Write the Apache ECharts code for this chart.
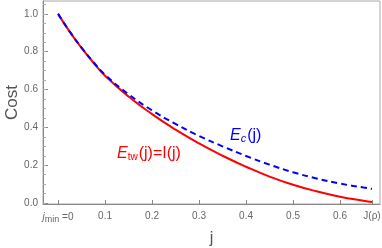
<!DOCTYPE html>
<html>
<head>
<meta charset="utf-8">
<script src="https://cdn.jsdelivr.net/npm/echarts@6/dist/echarts.min.js"></script>
<style>
  html, body { margin: 0; padding: 0; background: #fff; }
  #chart { width: 382px; height: 248px; }
</style>
</head>
<body>
<div id="chart"></div>
<script>
const J_RHO = 0.668;

const jValues = [0, 0.025, 0.05, 0.075, 0.1, 0.15, 0.2, 0.25, 0.3, 0.35, 0.4, 0.45, 0.5, 0.55, 0.6, 0.65, 0.668];
const twCost = [1.0, 0.905, 0.82, 0.743, 0.673, 0.563, 0.47, 0.388, 0.315, 0.25, 0.192, 0.14, 0.097, 0.062, 0.033, 0.012, 0.005];
const cCost = [1.0, 0.906, 0.822, 0.746, 0.678, 0.575, 0.49, 0.418, 0.355, 0.3, 0.249, 0.203, 0.163, 0.13, 0.103, 0.082, 0.075];

const xTicks = [0, 0.1, 0.2, 0.3, 0.4, 0.5, 0.6, J_RHO];
const yMajor = [0, 0.2, 0.4, 0.6, 0.8, 1.0];
const yMinor = [0, 0.05, 0.1, 0.15, 0.2, 0.25, 0.3, 0.35, 0.4, 0.45, 0.5, 0.55, 0.6, 0.65, 0.7, 0.75, 0.8, 0.85, 0.9, 0.95, 1.0, 1.05];

const pairs = (xs, ys) => xs.map((x, i) => [x, ys[i]]);

const AXIS_GRAY = "#888";
const LABEL_GRAY = "#666";

const chart = echarts.init(document.getElementById("chart"));

const yAxisBase = {
  type: "value",
  min: -0.005,
  max: 1.068,
  position: "left",
  axisLine: { show: true, onZero: false, lineStyle: { color: AXIS_GRAY } },
  splitLine: { show: false },
};

chart.setOption({
  animation: false,
  grid: {
    left: 43,
    right: 2,
    top: 1,
    bottom: 44,
    show: true,
    borderColor: "#aaa",
    borderWidth: 1,
    outerBoundsMode: "none",
    containLabel: false,
  },
  xAxis: {
    type: "value",
    min: -0.032,
    max: 0.685,
    name: "j",
    nameLocation: "middle",
    nameGap: 27,
    nameTextStyle: { color: "#555", fontSize: 16, fontFamily: "Liberation Sans" },
    axisLine: { show: true, onZero: false, lineStyle: { color: AXIS_GRAY } },
    axisTick: {
      show: true,
      inside: true,
      length: 4,
      customValues: xTicks,
      lineStyle: { color: AXIS_GRAY },
    },
    splitLine: { show: false },
    axisLabel: {
      customValues: xTicks,
      color: LABEL_GRAY,
      fontSize: 10,
      fontFamily: "Liberation Sans",
      margin: 7,
      formatter: (v) => {
        if (v === 0) return "{j|j}{sub|min}{n| =0}";
        if (Math.abs(v - J_RHO) < 1e-6) return "J(ρ)";
        return v.toFixed(1);
      },
      rich: {
        j: { color: LABEL_GRAY, fontSize: 10, fontStyle: "italic", fontFamily: "Liberation Sans" },
        sub: { color: LABEL_GRAY, fontSize: 9, fontFamily: "Liberation Sans", verticalAlign: "bottom", padding: [4, 0, 0, 0] },
        n: { color: LABEL_GRAY, fontSize: 10, fontFamily: "Liberation Sans" },
      },
    },
  },
  yAxis: [
    {
      ...yAxisBase,
      name: "Cost",
      nameLocation: "middle",
      nameGap: 22,
      nameMoveOverlap: false,
      nameRotate: 90,
      nameTextStyle: { color: "#555", fontSize: 17, fontFamily: "Liberation Sans" },
      axisTick: {
        show: true,
        inside: true,
        length: 5,
        customValues: yMajor,
        lineStyle: { color: AXIS_GRAY },
      },
      axisLabel: {
        customValues: yMajor,
        color: LABEL_GRAY,
        fontSize: 10,
        fontFamily: "Liberation Sans",
        margin: 5,
        formatter: (v) => v.toFixed(1),
      },
    },
    {
      ...yAxisBase,
      axisTick: {
        show: true,
        inside: true,
        length: 3,
        customValues: yMinor,
        lineStyle: { color: "#aaa" },
      },
      axisLabel: { show: false },
    },
  ],
  series: [
    {
      name: "E_tw",
      type: "line",
      smooth: true,
      showSymbol: false,
      data: pairs(jValues, twCost),
      lineStyle: { color: "#ff0000", width: 2 },
      z: 2,
    },
    {
      name: "E_c",
      type: "line",
      smooth: true,
      showSymbol: false,
      data: pairs(jValues, cCost),
      lineStyle: { color: "#0000ff", width: 2, type: [6, 4] },
      z: 3,
    },
  ],
  graphic: [
    {
      type: "text",
      left: 117,
      top: 146,
      style: {
        text: "{e|E}{s|tw}{t|(j)=I(j)}",
        rich: {
          e: { fontSize: 16, fontStyle: "italic", fill: "#ff0000", fontFamily: "Liberation Sans" },
          s: { fontSize: 10, fill: "#ff0000", fontFamily: "Liberation Sans", verticalAlign: "bottom", padding: [6, 1, 0, 0] },
          t: { fontSize: 16, fill: "#ff0000", fontFamily: "Liberation Sans" },
        },
      },
    },
    {
      type: "text",
      left: 230,
      top: 128,
      style: {
        text: "{e|E}{s|c}{t|(j)}",
        rich: {
          e: { fontSize: 16, fontStyle: "italic", fill: "#0000ff", fontFamily: "Liberation Sans" },
          s: { fontSize: 11, fontStyle: "italic", fill: "#0000ff", fontFamily: "Liberation Sans", verticalAlign: "bottom", padding: [6, 1, 0, 0] },
          t: { fontSize: 16, fill: "#0000ff", fontFamily: "Liberation Sans" },
        },
      },
    },
  ],
});
</script>
</body>
</html>
